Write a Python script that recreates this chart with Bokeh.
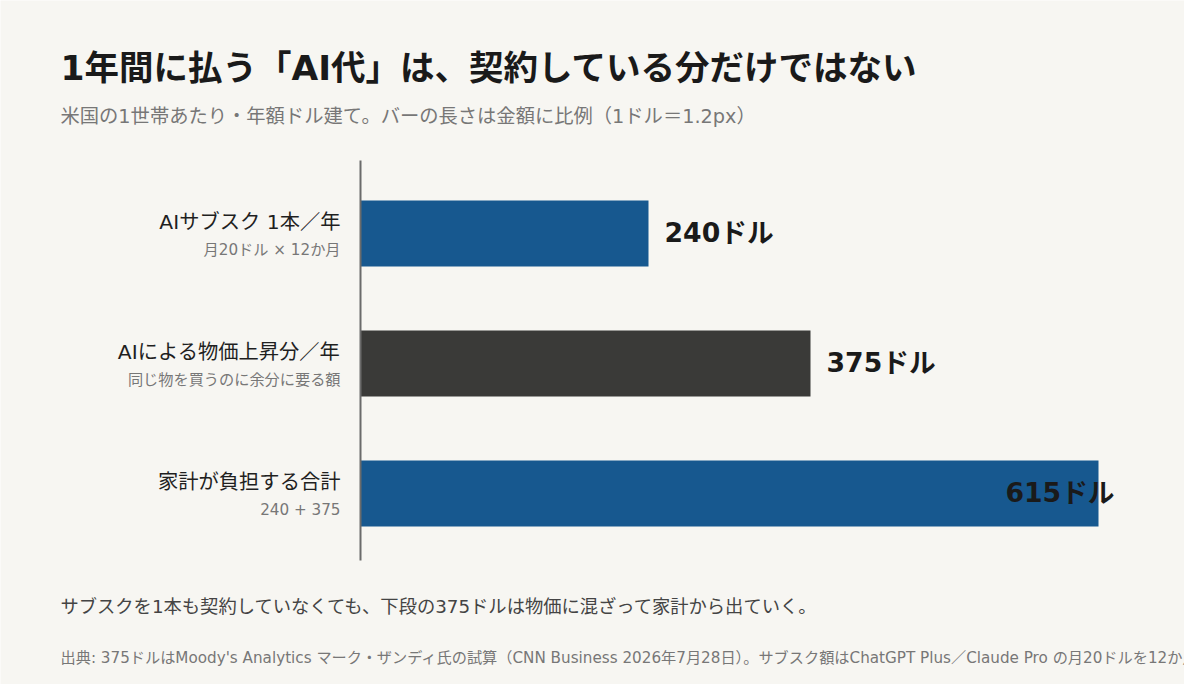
from bokeh.core.properties import value
from bokeh.embed import file_html
from bokeh.models import ColumnDataSource, Label, Range1d
from bokeh.plotting import figure
from bokeh.resources import INLINE

# data
labels = ["AIサブスク 1本／年", "AIによる物価上昇分／年", "家計が負担する合計"]
notes = ["月20ドル × 12か月", "同じ物を買うのに余分に要る額", "240 + 375"]
amounts = [240, 375, 615]
value_texts = ["240ドル", "375ドル", "615ドル"]
bar_colors = ["#17588f", "#3a3a38", "#17588f"]

title = "1年間に払う「AI代」は、契約している分だけではない"
subtitle = "米国の1世帯あたり・年額ドル建て。バーの長さは金額に比例（1ドル＝1.2px）"
note = "サブスクを1本も契約していなくても、下段の375ドルは物価に混ざって家計から出ていく。"
source_text = ("出典: 375ドルはMoody's Analytics マーク・ザンディ氏の試算（CNN Business 2026年7月28日）。"
               "サブスク額はChatGPT Plus／Claude Pro の月20ドルを12か月分。")

FONT = "DejaVu Sans, Noto Sans CJK JP"
BG = "#f7f6f2"
W, H = 1184, 684
PX_PER_DOLLAR = 1.2
ROW = 130  # px between bars
AXIS_X = 360
ROW0_Y = 233

idx = list(range(len(amounts)))
src = ColumnDataSource(data=dict(
    y=idx, amount=amounts, zero=[0] * len(amounts), color=bar_colors,
    label=labels, note=notes,
))

# x: dollars, 0 sits at x=360px; y: row index, row 0 centred at y=233px
x0 = AXIS_X / PX_PER_DOLLAR
y0 = ROW0_Y / ROW
p = figure(width=W, height=H, output_backend="svg", toolbar_location=None,
           x_range=Range1d(-x0, (W - AXIS_X) / PX_PER_DOLLAR),
           y_range=Range1d((H - ROW0_Y) / ROW, -y0),
           min_border=0, background_fill_color=BG, border_fill_color=BG,
           outline_line_color=None)
p.xaxis.visible = False
p.yaxis.visible = False
p.grid.visible = False

p.hbar(y="y", left="zero", right="amount", height=66 / ROW, fill_color="color",
       line_color=None, source=src)
p.segment(x0=[0], y0=[-73 / ROW], x1=[0], y1=[2 + 67 / ROW],
          line_color="#6b6b6b", line_width=2)

# category labels
p.text(x="zero", y="y", text="label", source=src, x_offset=-20, y_offset=-12,
       text_align="right", text_baseline="middle", text_font=value(FONT),
       text_font_size="20.3px", text_color="#1f1f1f")
p.text(x="zero", y="y", text="note", source=src, x_offset=-20, y_offset=16,
       text_align="right", text_baseline="middle", text_font=value(FONT),
       text_font_size="15.2px", text_color="#777777")

# value labels
vsrc = ColumnDataSource(data=dict(y=idx[:2], amount=amounts[:2], vtext=value_texts[:2]))
p.text(x="amount", y="y", text="vtext", source=vsrc, x_offset=16, y_offset=-1,
       text_align="left", text_baseline="middle", text_font=value(FONT),
       text_font_style="bold", text_font_size="26.7px", text_color="#1a1a1a")
lsrc = ColumnDataSource(data=dict(y=idx[2:], amount=amounts[2:], vtext=value_texts[2:]))
p.text(x="amount", y="y", text="vtext", source=lsrc, x_offset=16, y_offset=-1,
       text_align="right", text_baseline="middle", text_font=value(FONT),
       text_font_style="bold", text_font_size="26.7px", text_color="#1a1a1a")


def add_text(txt, y, size, color, bold=False):
    p.add_layout(Label(x=60, y=H - y, x_units="screen", y_units="screen",
                       text=txt, text_font=FONT, text_font_size=size,
                       text_font_style="bold" if bold else "normal",
                       text_color=color, text_baseline="middle", text_align="left"))


add_text(title, 67, "34.5px", "#1a1a1a", bold=True)
add_text(subtitle, 116, "19.3px", "#777777")
add_text(note, 606, "18.3px", "#444444")
add_text(source_text, 657, "15.2px", "#777777")

open("out.html", "w").write(file_html(p, INLINE))
